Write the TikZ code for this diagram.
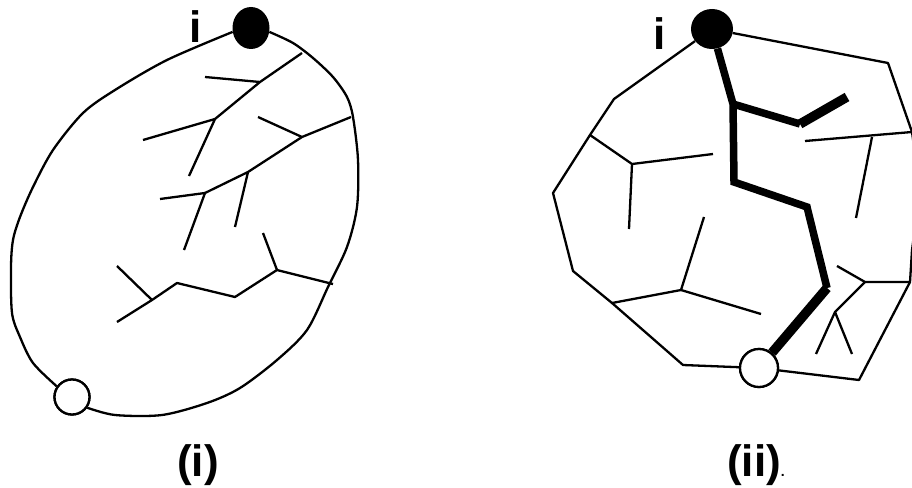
\documentclass[tikz,border=0pt]{standalone}
\usepackage{fontspec}
\setmainfont{Liberation Sans}
\usetikzlibrary{shapes.geometric}

\begin{document}
\begin{tikzpicture}[x=1pt, y=-1pt, line join=round,
    wire/.style={draw, line width=2.3pt},
    route/.style={draw, line width=7.5pt, line join=miter},
    source/.style={ellipse, fill=black, inner sep=0pt, minimum width=37pt, minimum height=42pt},
    sink/.style={circle, draw, line width=2.3pt, fill=white, inner sep=0pt, minimum size=35pt},
    tag/.style={font=\bfseries\fontsize{44}{50}\selectfont, inner sep=0pt, anchor=base}]

    \clip (0,0) rectangle (912,487);

    % Left graph (i)
    \node [source] (srcA) at (251,28) {};
    \node [sink] (snkA) at (72,397) {};
    \node [tag] (iA) at (196,42) {i};

    \coordinate (rA1) at (302,53);
    \coordinate (rA2) at (351,117);
    \coordinate (rA3) at (333,284);
    \coordinate (a1) at (260,82);
    \coordinate (a2) at (215,119);
    \coordinate (a3) at (302,137);
    \coordinate (a4) at (248,172);
    \coordinate (a5) at (205,193);
    \coordinate (a6) at (152,300);
    \coordinate (a7) at (177,283);
    \coordinate (a8) at (235,297);
    \coordinate (a9) at (277,270);

    % outer boundary
    \draw [wire] plot [smooth, tension=0.5] coordinates {(srcA.192) (167,60) (115,90) (83,113) (53,150) (33,187) (20,217) (13,240) (11,267) (12,313) (20,337) (33,363) (snkA.145)};
    \draw [wire] plot [smooth, tension=0.5] coordinates {(snkA.-35) (115,415) (162,415) (207,403) (240,388) (277,360) (307,330) (328,287) (347,247) (357,207) (358,160) (353,117) (347,97) (333,77) (313,58) (293,43) (srcA.-12)};

    % branches
    \draw [wire] (rA1) -- (a1) -- (a2) -- (189,176);
    \draw [wire] (205,77) -- (a1);
    \draw [wire] (143,140) -- (a2);
    \draw [wire] (rA2) -- (a3) -- (a4) -- (a5) -- (184,250);
    \draw [wire] (258,117) -- (a3);
    \draw [wire] (160,199) -- (a5);
    \draw [wire] (a4) -- (235,227);
    \draw [wire] (117,266) -- (a6);
    \draw [wire] (117,322) -- (a6) -- (a7) -- (a8) -- (a9) -- (rA3);
    \draw [wire] (263,233) -- (a9);

    % Right graph (ii)
    \node [source, minimum width=42pt, minimum height=40pt] (srcB) at (712,29) {};
    \node [sink, minimum size=38pt] (snkB) at (759,368) {};
    \node [tag] (iB) at (660,50) {i};

    \coordinate (rB1) at (590,135);
    \coordinate (rB2) at (612,303);
    \coordinate (rB3) at (912,132);
    \coordinate (rB4) at (910,282);
    \coordinate (b1) at (632,164);
    \coordinate (b2) at (681,290);
    \coordinate (b3) at (872,137);
    \coordinate (b4) at (865,282);
    \coordinate (b5) at (835,312);
    \coordinate (c1) at (733,104);
    \coordinate (c2) at (800,124);
    \coordinate (c3) at (847,97);
    \coordinate (c4) at (734,182);
    \coordinate (c5) at (807,207);
    \coordinate (c6) at (827,288);

    % outer boundary
    \draw [wire] (srcB) -- (614,99) -- (rB1) -- (553,193) -- (573,271) -- (rB2) -- (683,365) -- (snkB);
    \draw [wire] (snkB) -- (859,380) -- (rB4) -- (912,250) -- (920,190) -- (rB3) -- (888,63) -- (srcB);

    % branches
    \draw [wire] (rB1) -- (b1) -- (713,154);
    \draw [wire] (b1) -- (629,229);
    \draw [wire] (704,217) -- (b2) -- (761,314);
    \draw [wire] (rB2) -- (b2);
    \draw [wire] (805,141) -- (rB3);
    \draw [wire] (b3) -- (856,218);
    \draw [wire] (837,266) -- (b4) -- (rB4);
    \draw [wire] (b4) -- (b5) -- (816,354);
    \draw [wire] (b5) -- (852,354);

    % thick route
    \draw [route] (srcB) -- (c1) -- (c4) -- (c5) -- (c6);
    \draw [route] (c1) -- (c2);
    \draw [route, line width=9.5pt] (c2) -- (c3);
    \draw [route, line width=9.5pt] (c6) -- (snkB);

    % redraw node borders on top
    \node [sink] at (snkA) {};
    \node [sink, minimum size=38pt] at (snkB) {};

    % captions
    \node [tag] (capA) at (198,476) {(i)};
    \node [tag, anchor=base west] (capB) at (727,476) {(ii){\fontsize{14}{16}\selectfont.}};
\end{tikzpicture}
\end{document}
